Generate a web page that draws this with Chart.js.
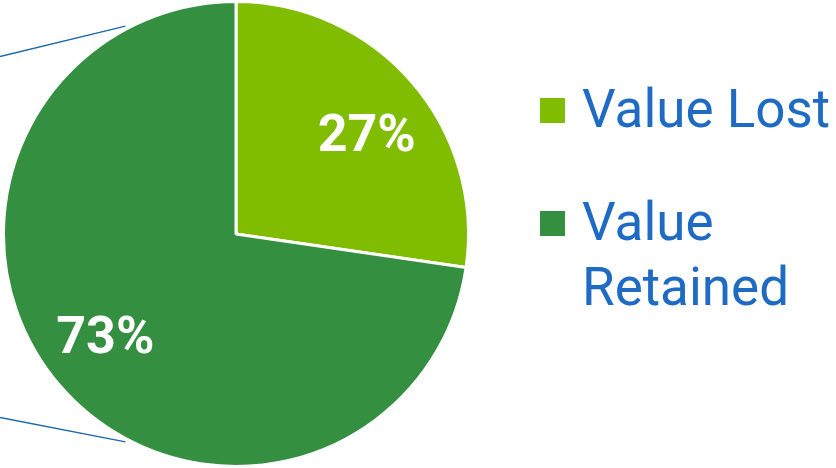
<!DOCTYPE html>
<html>
<head>
<meta charset="utf-8">
<script src="https://cdn.jsdelivr.net/npm/chart.js@4/dist/chart.umd.min.js"></script>
<style>
  html, body { margin: 0; padding: 0; background: #ffffff; }
  #wrap { position: relative; width: 836px; height: 468px; overflow: hidden; }
  #c { position: absolute; left: 0; top: 0; }
  #legend { position: absolute; left: 540px; top: 0; font-family: Roboto, sans-serif; color: #1f6bc4; font-size: 53px; line-height: 65px; }
  .item { position: absolute; left: 0; white-space: nowrap; }
  .sw { position: absolute; left: 0; width: 25px; height: 25px; }
  .tx { position: absolute; left: 42px; top: 0; }
</style>
</head>
<body>
<div id="wrap">
  <canvas id="c" width="836" height="468"></canvas>
  <div id="legend"></div>
</div>
<script>
const categories = ["Value Lost", "Value Retained"];
const legendLines = [["Value Lost"], ["Value", "Retained"]];
const values = [27.3, 72.7];
const valueLabels = ["27%", "73%"];
const colors = ["#80bc00", "#348f41"];

const decoLines = {
  id: 'decoLines',
  afterDatasetsDraw(chart) {
    const arc = chart.getDatasetMeta(0).data[0];
    if (!arc) return;
    const ctx = chart.ctx;
    const cx = arc.x, cy = arc.y, r = arc.outerRadius;
    ctx.save();
    ctx.strokeStyle = '#1a6aad';
    ctx.lineWidth = 1.3;
    [-1, 1].forEach(s => {
      const a = s * 118 * Math.PI / 180;
      const x1 = cx + (r + 3) * Math.cos(a);
      const y1 = cy + (r + 3) * Math.sin(a);
      ctx.beginPath();
      ctx.moveTo(x1, y1);
      ctx.lineTo(0, s < 0 ? cy - 177.5 : cy + 183.5);
      ctx.stroke();
    });
    ctx.restore();
  }
};

const sliceLabels = {
  id: 'sliceLabels',
  afterDatasetsDraw(chart) {
    const ctx = chart.ctx;
    const meta = chart.getDatasetMeta(0);
    ctx.save();
    ctx.fillStyle = '#ffffff';
    ctx.font = 'bold 52px Roboto, sans-serif';
    ctx.textAlign = 'center';
    ctx.textBaseline = 'middle';
    meta.data.forEach((arc, i) => {
      const mid = (arc.startAngle + arc.endAngle) / 2 + 3.2 * Math.PI / 180;
      const rr = arc.outerRadius * 0.71;
      ctx.fillText(valueLabels[i], arc.x + rr * Math.cos(mid), arc.y + rr * Math.sin(mid) + 5);
    });
    ctx.restore();
  }
};

new Chart(document.getElementById('c'), {
  type: 'pie',
  data: {
    labels: categories,
    datasets: [{
      data: values,
      backgroundColor: colors,
      borderColor: '#ffffff',
      borderWidth: 3
    }]
  },
  options: {
    responsive: false,
    animation: false,
    layout: { padding: { left: 0, right: 364, top: 0, bottom: 0 } },
    plugins: { legend: { display: false }, tooltip: { enabled: false } }
  },
  plugins: [decoLines, sliceLabels]
});

// HTML legend (wrapped text)
const legend = document.getElementById('legend');
const tops = [77, 190];
legendLines.forEach((lines, i) => {
  const it = document.createElement('div');
  it.className = 'item';
  it.style.top = tops[i] + 'px';
  const sw = document.createElement('div');
  sw.className = 'sw';
  sw.style.background = colors[i];
  sw.style.top = '21px';
  const tx = document.createElement('div');
  tx.className = 'tx';
  tx.innerHTML = lines.join('<br>');
  it.appendChild(sw);
  it.appendChild(tx);
  legend.appendChild(it);
});
</script>
</body>
</html>
